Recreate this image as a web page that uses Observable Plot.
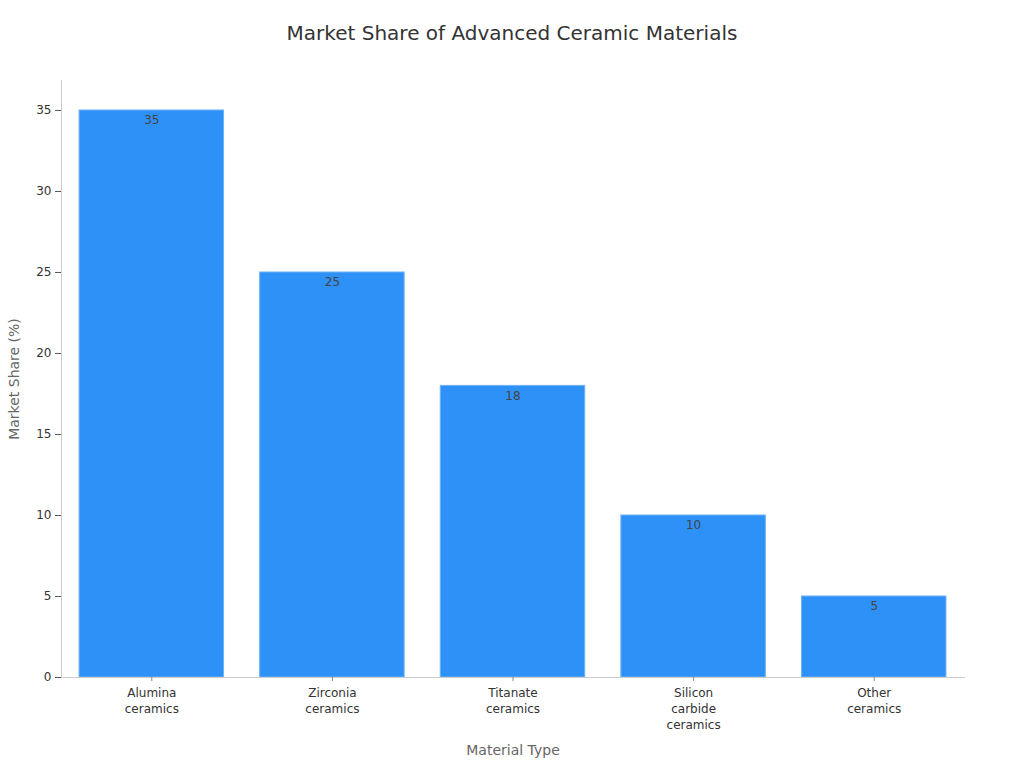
<!DOCTYPE html>
<html>
<head>
<meta charset="utf-8">
<script src="https://cdn.jsdelivr.net/npm/d3@7"></script>
<script src="https://cdn.jsdelivr.net/npm/@observablehq/plot@0.6"></script>
<style>
  html, body { margin: 0; padding: 0; background: #fff; }
  body { width: 1024px; height: 768px; overflow: hidden; font-family: "DejaVu Sans", sans-serif; }
  #title { height: 60px; line-height: 66px; text-align: center; font-size: 20px; color: #333; }
</style>
</head>
<body>
<div id="title">Market Share of Advanced Ceramic Materials</div>
<div id="chart"></div>
<script>
const categories = ["Alumina ceramics", "Zirconia ceramics", "Titanate ceramics", "Silicon carbide ceramics", "Other ceramics"];
const shares = [35, 25, 18, 10, 5];
const tickLabels = ["Alumina\nceramics", "Zirconia\nceramics", "Titanate\nceramics", "Silicon\ncarbide\nceramics", "Other\nceramics"];
const yTicks = [0, 5, 10, 15, 20, 25, 30, 35];
const xTitle = "Material Type";
const yTitle = "Market Share (%)";

const data = categories.map((c, i) => ({category: c, share: shares[i]}));
const labelOf = new Map(categories.map((c, i) => [c, tickLabels[i]]));

const chart = Plot.plot({
  width: 1024,
  height: 708,
  marginTop: 20,
  marginBottom: 91,
  marginLeft: 61,
  marginRight: 60,
  style: {fontFamily: "DejaVu Sans, sans-serif", fontSize: "12px", color: "#333", background: "#fff"},
  x: {domain: categories, paddingInner: 0.2, paddingOuter: 0.1, round: false},
  y: {domain: [0, 36.85]},
  marks: [
    Plot.barY(data, {x: "category", y: "share", fill: "#2e91f7", stroke: "#6fb3f5", strokeWidth: 1}),
    Plot.text(data, {x: "category", y: "share", text: d => String(d.share), dy: 10, fill: "#444", fontSize: 12}),
    Plot.frame({anchor: "left", stroke: "#ccc"}),
    Plot.frame({anchor: "bottom", stroke: "#ccc"}),
    Plot.axisY({ticks: yTicks, tickSize: 6, tickPadding: 4, stroke: "#555", fill: "#333", fontSize: 12, label: null}),
    Plot.axisX({tickSize: 4, tickPadding: 4, stroke: "#888", fill: "#333", fontSize: 12, lineHeight: 1.34,
      tickFormat: d => labelOf.get(d), label: null}),
    Plot.text([yTitle], {frameAnchor: "left", textAnchor: "middle", lineAnchor: "middle", rotate: -90, dx: -47, fontSize: 14, fill: "#666"}),
    Plot.text([xTitle], {frameAnchor: "bottom", textAnchor: "middle", lineAnchor: "middle", dy: 73, fontSize: 14, fill: "#666"})
  ]
});
document.getElementById("chart").appendChild(chart);
</script>
</body>
</html>
